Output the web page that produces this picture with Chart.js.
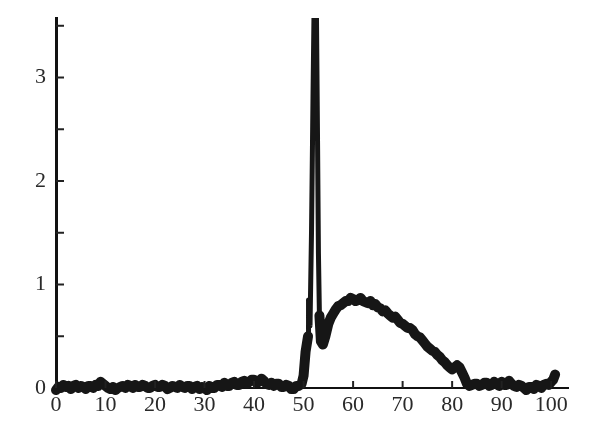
<!DOCTYPE html>
<html>
<head>
<meta charset="utf-8">
<script src="https://cdn.jsdelivr.net/npm/chart.js@4/dist/chart.umd.min.js"></script>
<style>
  html, body { margin: 0; padding: 0; background: #fff; }
  #wrap { width: 600px; height: 439px; }
</style>
</head>
<body>
<div id="wrap"><canvas id="chart"></canvas></div>
<script>
// trace (x, signal)
const xs = [
  0, 0.5, 1, 1.5, 2, 2.5, 3, 3.5, 4, 4.5, 5, 5.5, 6, 6.5, 7, 7.5, 8, 8.5, 9, 9.5,
  10, 10.5, 11, 11.5, 12, 12.5, 13, 13.5, 14, 14.5, 15, 15.5, 16, 16.5, 17, 17.5, 18, 18.5, 19, 19.5,
  20, 20.5, 21, 21.5, 22, 22.5, 23, 23.5, 24, 24.5, 25, 25.5, 26, 26.5, 27, 27.5, 28, 28.5, 29, 29.5,
  30, 30.5, 31, 31.5, 32, 32.5, 33, 33.5, 34, 34.5, 35, 35.5, 36, 36.5, 37, 37.5, 38, 38.5, 39, 39.5,
  40, 40.5, 41, 41.5, 42, 42.5, 43, 43.5, 44, 44.5, 45, 45.5, 46, 46.5, 47, 47.5, 48, 48.5, 49,
  49.6, 50.0, 50.4, 50.9,
  51.0, 51.3, 51.6, 51.9, 52.1, 52.6, 52.8, 53.0, 53.2,
  53.5, 53.9, 54.4, 55, 55.5, 56, 56.5, 57, 57.5, 58, 58.5, 59, 59.5, 60, 60.5, 61, 61.5, 62, 62.5, 63, 63.5, 64, 64.5,
  65, 65.5, 66, 66.5, 67, 67.5, 68, 68.5, 69, 69.5, 70, 70.5, 71, 71.5, 72, 72.5, 73, 73.5, 74, 74.5,
  75, 75.5, 76, 76.5, 77, 77.5, 78, 78.5, 79, 79.5, 80, 80.5, 81, 81.5, 82, 82.5, 83, 83.5, 84, 84.5,
  85, 85.5, 86, 86.5, 87, 87.5, 88, 88.5, 89, 89.5, 90, 90.5, 91, 91.5, 92, 92.5, 93, 93.5, 94, 94.5,
  95, 95.5, 96, 96.5, 97, 97.5, 98, 98.5, 99, 99.5, 100, 100.4, 100.8
];
const signal = [
  -0.02, 0.01, 0.0, 0.03, 0.01, 0.02, -0.01, 0.02, 0.03, 0.0, 0.02, 0.01, -0.01, 0.02, 0.02, 0.0, 0.03, 0.02, 0.06, 0.04,
  0.02, 0.0, -0.01, 0.01, -0.02, 0.0, 0.01, 0.02, 0.0, 0.03, 0.02, 0.0, 0.03, 0.01, 0.01, 0.03, 0.02, 0.0, 0.0, 0.02,
  0.03, 0.01, 0.01, 0.03, 0.02, -0.01, 0.0, 0.02, 0.01, 0.0, 0.03, 0.01, 0.0, 0.02, 0.02, -0.01, 0.01, 0.02, -0.01, 0.01,
  0.0, -0.02, 0.02, 0.0, 0.0, 0.03, 0.03, 0.01, 0.05, 0.02, 0.02, 0.05, 0.06, 0.03, 0.03, 0.06, 0.07, 0.04, 0.06, 0.08,
  0.08, 0.05, 0.06, 0.09, 0.07, 0.04, 0.03, 0.05, 0.02, 0.04, 0.04, 0.01, 0.01, 0.03, 0.02, -0.01, -0.01, 0.02, 0.02,
  0.04, 0.12, 0.35, 0.5,
  0.85, 0.6, 1.5, 2.8, 3.6, 3.6, 2.5, 1.3, 0.7,
  0.45, 0.42, 0.5, 0.62, 0.68, 0.72, 0.76, 0.79, 0.8, 0.82, 0.84, 0.84, 0.87, 0.86, 0.84, 0.85, 0.87, 0.84, 0.83, 0.82, 0.84, 0.8, 0.81,
  0.78, 0.77, 0.74, 0.75, 0.72, 0.7, 0.68, 0.69, 0.66, 0.63, 0.62, 0.6, 0.58, 0.58, 0.56, 0.52, 0.5, 0.49, 0.46, 0.43,
  0.4, 0.38, 0.36, 0.35, 0.32, 0.3, 0.27, 0.25, 0.22, 0.2, 0.18, 0.2, 0.22, 0.2, 0.15, 0.1, 0.04, 0.02, 0.03, 0.04,
  0.04, 0.02, 0.03, 0.05, 0.05, 0.02, 0.03, 0.06, 0.04, 0.02, 0.06, 0.03, 0.03, 0.07, 0.04, 0.02, 0.01, 0.03, 0.02, 0.0,
  -0.02, 0.01, 0.01, -0.01, 0.03, 0.02, 0.0, 0.03, 0.04, 0.03, 0.06, 0.08, 0.13
];
const xTickLabels = [0, 10, 20, 30, 40, 50, 60, 70, 80, 90, 100];
const yTickLabels = [0, 1, 2, 3];

// the narrow spike is drawn thinner than the rest of the trace
const spikeFrom = 50.9, spikeTo = 53.2;
const FONT = "'Liberation Serif', 'DejaVu Serif', serif";

const pts = xs.map((x, i) => ({ x: x, y: signal[i] }));
const thickPts = [];
pts.forEach(p => {
  if (p.x <= spikeFrom || p.x >= spikeTo) thickPts.push(p);
  if (p.x === spikeFrom) thickPts.push({ x: (spikeFrom + spikeTo) / 2, y: null });
});
const spikePts = pts.filter(p => p.x >= spikeFrom && p.x <= spikeTo);

// inward tick marks on both axes
const innerTicks = {
  id: "innerTicks",
  afterDraw(chart) {
    const c = chart.ctx, a = chart.chartArea;
    const xScale = chart.scales.x, yScale = chart.scales.y;
    c.save();
    c.strokeStyle = "#222";
    c.lineWidth = 2;
    xTickLabels.forEach(v => {
      const px = xScale.getPixelForValue(v);
      c.beginPath(); c.moveTo(px, a.bottom); c.lineTo(px, a.bottom - 7); c.stroke();
    });
    for (let v = 0.5; v <= 3.5; v += 0.5) {
      const py = yScale.getPixelForValue(v);
      c.beginPath(); c.moveTo(a.left, py); c.lineTo(a.left + 8, py); c.stroke();
    }
    c.restore();
  }
};

const lineStyle = {
  borderColor: "#161616",
  borderJoinStyle: "round",
  borderCapStyle: "round",
  pointRadius: 0,
  tension: 0,
  spanGaps: false,
  clip: { left: false, right: false, bottom: false, top: 0 }
};

const chart = new Chart(document.getElementById("chart"), {
  type: "line",
  data: {
    datasets: [
      Object.assign({ data: thickPts, borderWidth: 10 }, lineStyle),
      Object.assign({ data: spikePts, borderWidth: 5 }, lineStyle)
    ]
  },
  options: {
    responsive: true,
    maintainAspectRatio: false,
    animation: false,
    layout: { padding: { top: 18, right: 32, bottom: 0, left: 0 } },
    plugins: { legend: { display: false }, tooltip: { enabled: false } },
    scales: {
      x: {
        type: "linear",
        min: 0,
        max: 103.4,
        afterFit: s => { s.height = 51; s.paddingLeft = 0; s.paddingRight = 0; },
        afterBuildTicks: s => { s.ticks = xTickLabels.map(v => ({ value: v })); },
        grid: { display: true, drawOnChartArea: false, drawTicks: false },
        border: { display: true, color: "#111", width: 2 },
        ticks: {
          padding: 4,
          color: "#2a2a2a",
          font: { family: FONT, size: 22 },
          maxRotation: 0
        }
      },
      y: {
        type: "linear",
        min: 0,
        max: 3.575,
        afterFit: s => { s.width = 56; s.paddingTop = 0; s.paddingBottom = 0; },
        afterBuildTicks: s => { s.ticks = yTickLabels.map(v => ({ value: v })); },
        grid: { display: true, drawOnChartArea: false, drawTicks: false },
        border: { display: true, color: "#111", width: 3 },
        ticks: {
          padding: 10,
          color: "#2a2a2a",
          font: { family: FONT, size: 22 }
        }
      }
    }
  },
  plugins: [innerTicks]
});
</script>
</body>
</html>
